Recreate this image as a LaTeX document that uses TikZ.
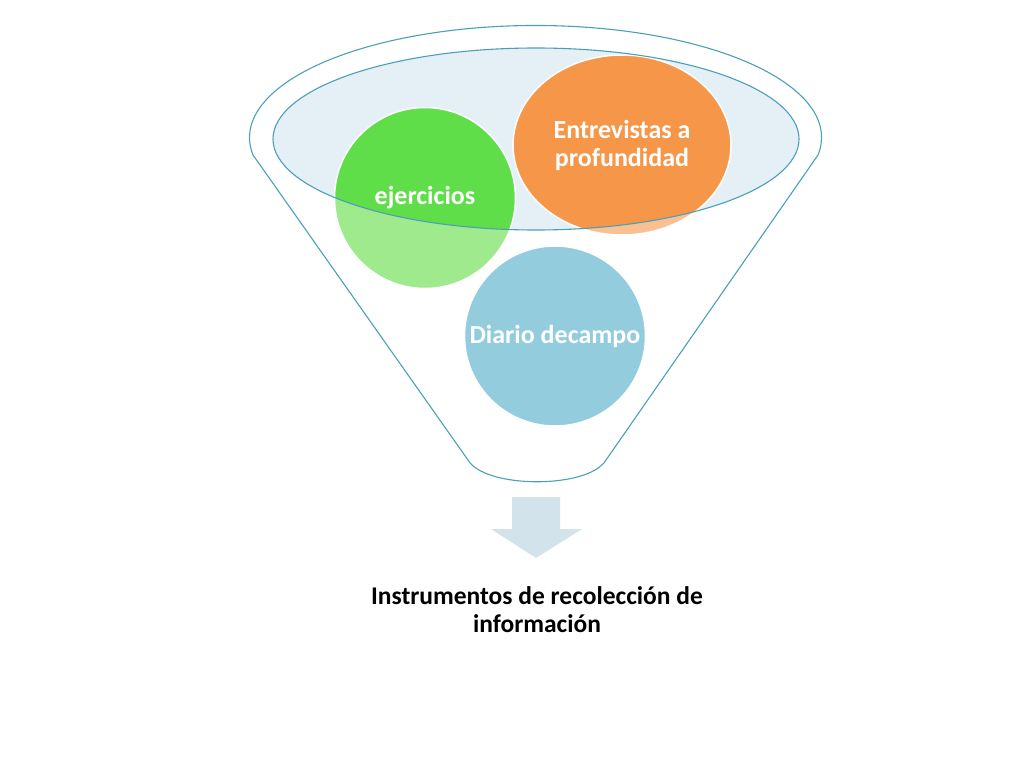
\documentclass[tikz,border=0pt]{standalone}
\usepackage{fontspec}
\setmainfont{Carlito}
\usepackage{tikz}
\usetikzlibrary{shapes.geometric}
\definecolor{rimcolor}{RGB}{75,160,185}
\definecolor{bowlcolor}{RGB}{228,239,246}
\definecolor{ejfull}{RGB}{96,222,74}
\definecolor{ejlight}{RGB}{160,234,142}
\definecolor{enfull}{RGB}{246,150,72}
\definecolor{enlight}{RGB}{250,192,146}
\definecolor{dicolor}{RGB}{146,204,221}
\definecolor{arrowcolor}{RGB}{210,227,235}

\begin{document}
\begin{tikzpicture}[x=1pt, y=-1pt,
          rim/.style={draw=rimcolor, line width=1.1pt},
          ball/.style={ellipse, draw=white, line width=1.5pt, inner sep=0pt},
          balltext/.style={text=white, font=\fontsize{26}{28}\selectfont\bfseries, align=center},
          caption/.style={font=\fontsize{25.5}{28}\selectfont\bfseries, align=center}]
          \useasboundingbox (0,0) rectangle (1024,768);

          % Funnel
          \coordinate (bowl) at (536,139);
          \coordinate (tl) at (253,155);
          \coordinate (tr) at (818,155);
          \coordinate (bl) at (468,460);
          \coordinate (br) at (606,460);
          \draw[rim] (tl) -- (bl) .. controls (485,489) and (589,489) .. (br) -- (tr)
            arc[start angle=9, end angle=-189, x radius=286, y radius=112];
          \fill[bowlcolor] (bowl) ellipse [x radius=263, y radius=91];

          % Nodes
          \node[ball, fill=ejlight, minimum width=181pt, minimum height=181pt,
            path picture={\fill[ejfull] (bowl) ellipse [x radius=263, y radius=91];},
            label={[balltext]center:ejercicios}]
            (ej) at (425,198) {};
          \node[ball, fill=enlight, minimum width=218pt, minimum height=180pt,
            path picture={\fill[enfull] (bowl) ellipse [x radius=263, y radius=91];},
            label={[balltext]center:Entrevistas a\\profundidad}]
            (en) at (622,145) {};
          \node[ball, fill=dicolor, minimum width=181pt, minimum height=180pt,
            label={[balltext]center:Diario decampo}]
            (di) at (555,336) {};
          \draw[rim] (bowl) ellipse [x radius=263, y radius=91];

          % Arrow and caption
          \fill[arrowcolor] (512,497) -- (560,497) -- (560,529) -- (582,529)
            -- (536,558) -- (491,529) -- (512,529) -- cycle;
          \node[caption] (info) at (537,610) {Instrumentos de recolección de\\información};
        \end{tikzpicture}
\end{document}
